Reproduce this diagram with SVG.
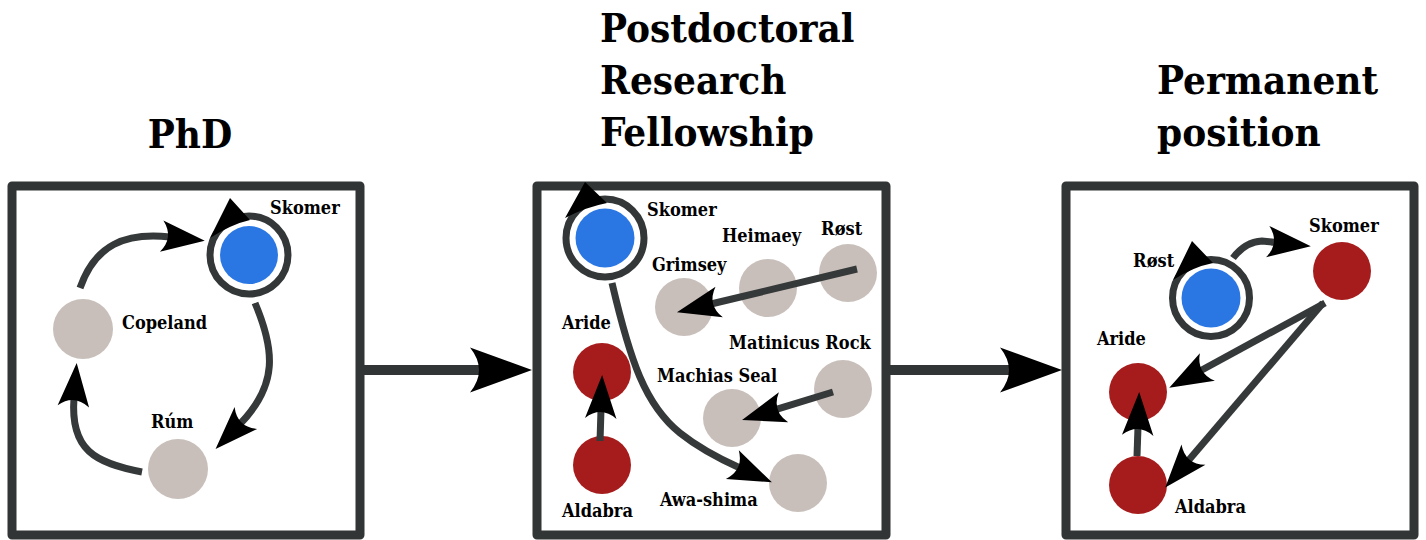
<svg xmlns="http://www.w3.org/2000/svg" width="1426" height="540" viewBox="0 0 1426 540">
<style>
.title{font-family:"DejaVu Serif Condensed","DejaVu Serif","Liberation Serif",serif;font-weight:bold;font-size:40px;fill:#000}
.lbl{font-family:"DejaVu Serif Condensed","DejaVu Serif","Liberation Serif",serif;font-weight:bold;font-size:18px;fill:#000}
.panel{fill:#fff;stroke:#313535;stroke-width:9;stroke-linejoin:round}
.blue{fill:#2a77e4}
.red{fill:#a61c1c}
.grey{fill:#c8bfba}
.ring{fill:none;stroke:#333737;stroke-width:7}
.edge{fill:none;stroke:#353939;stroke-width:7;marker-end:url(#head)}
.big{fill:none;stroke:#313535;stroke-width:10;marker-end:url(#head)}
.lhead{fill:#000}
</style>
<defs>
<marker id="head" markerUnits="strokeWidth" markerWidth="6.2" markerHeight="4.5" viewBox="0 -2.25 6.2 4.5" refX="1.2" refY="0" orient="auto" overflow="visible">
<path d="M6.2,0 L0,-2.25 Q1.8,0 0,2.25 Z" fill="#000"/>
</marker>
</defs>
<rect width="1426" height="540" fill="#fff"/>
<g id="titles">
<text class="title" x="190" y="148" text-anchor="middle">PhD</text>
<text class="title" x="600" y="42">Postdoctoral</text>
<text class="title" x="600" y="94">Research</text>
<text class="title" x="600" y="146">Fellowship</text>
<text class="title" x="1157" y="94">Permanent</text>
<text class="title" x="1157" y="146">position</text>
</g>
<g id="panels">
<rect id="panel-phd" class="panel" x="12" y="186" width="348" height="349"/>
<rect id="panel-postdoc" class="panel" x="537" y="186" width="349" height="349"/>
<rect id="panel-permanent" class="panel" x="1066" y="186" width="348" height="349"/>
</g>
<g id="nodes">
<g id="p1-skomer"><circle class="ring" cx="249" cy="255" r="39"/><circle class="blue" cx="249" cy="255" r="29"/><text class="lbl" x="270" y="214">Skomer</text></g>
<g id="p1-copeland"><circle class="grey" cx="83" cy="329" r="30"/><text class="lbl" x="122" y="329">Copeland</text></g>
<g id="p1-rum"><circle class="grey" cx="178" cy="469" r="30"/><text class="lbl" x="151" y="428">Rúm</text></g>

<g id="p2-skomer"><circle class="ring" cx="605" cy="238" r="39"/><circle class="blue" cx="605" cy="238" r="29.5"/><text class="lbl" x="647" y="216">Skomer</text></g>
<g id="p2-grimsey"><circle class="grey" cx="684" cy="307" r="29"/><text class="lbl" x="652" y="271">Grimsey</text></g>
<g id="p2-heimaey"><circle class="grey" cx="768" cy="288" r="29"/><text class="lbl" x="722" y="242">Heimaey</text></g>
<g id="p2-rost"><circle class="grey" cx="848" cy="273" r="29"/><text class="lbl" x="821" y="235">Røst</text></g>
<g id="p2-matinicus"><circle class="grey" cx="843" cy="389" r="29"/><text class="lbl" x="729" y="349">Matinicus Rock</text></g>
<g id="p2-machias"><circle class="grey" cx="732" cy="418" r="29"/><text class="lbl" x="657" y="382">Machias Seal</text></g>
<g id="p2-awashima"><circle class="grey" cx="798" cy="483" r="29"/><text class="lbl" x="660" y="506">Awa-shima</text></g>
<g id="p2-aride"><circle class="red" cx="602" cy="372" r="29"/><text class="lbl" x="562" y="329">Aride</text></g>
<g id="p2-aldabra"><circle class="red" cx="602" cy="465" r="29"/><text class="lbl" x="562" y="517">Aldabra</text></g>

<g id="p3-rost"><circle class="ring" cx="1211" cy="298" r="38.5"/><circle class="blue" cx="1211" cy="298" r="29.5"/><text class="lbl" x="1133" y="267">Røst</text></g>
<g id="p3-skomer"><circle class="red" cx="1342" cy="271" r="29"/><text class="lbl" x="1309" y="232">Skomer</text></g>
<g id="p3-aride"><circle class="red" cx="1138" cy="392" r="29"/><text class="lbl" x="1097" y="345">Aride</text></g>
<g id="p3-aldabra"><circle class="red" cx="1138" cy="485" r="29"/><text class="lbl" x="1175" y="513">Aldabra</text></g>
</g>
<g id="connectors">
<path class="big" d="M360,370 L482,370"/>
<path class="big" d="M886,370 L1012,370"/>

<path class="edge" d="M80,288 C95,245 125,232 170,237"/>
<path class="edge" d="M255,303 C275,350 278,385 240,424"/>
<path class="edge" d="M142,472 C95,463 70,450 74,398"/>
<path class="lhead" d="M230,198 L250,220 Q232,224 210,238 Z"/>

<path class="lhead" d="M585,182 L607,203 Q586,207 565,218 Z"/>
<path class="edge" d="M612,283 C630,360 645,405 680,433 C700,449 720,459 740,468"/>
<path class="edge" d="M857,269 L711,304"/>
<path class="edge" d="M833,392 L775.5,409.7"/>
<path class="edge" d="M600,441 L601,410"/>

<path class="lhead" d="M1192,241 L1213,263 Q1193,267 1173,280 Z"/>
<path class="edge" d="M1233,258 Q1245,242 1262,241 L1276,242.5"/>
<path class="edge" d="M1325,303 L1200,371"/>
<path class="edge" d="M1323,303 L1188,461"/>
<path class="edge" d="M1137,456 L1138,427"/>
</g>
</svg>
